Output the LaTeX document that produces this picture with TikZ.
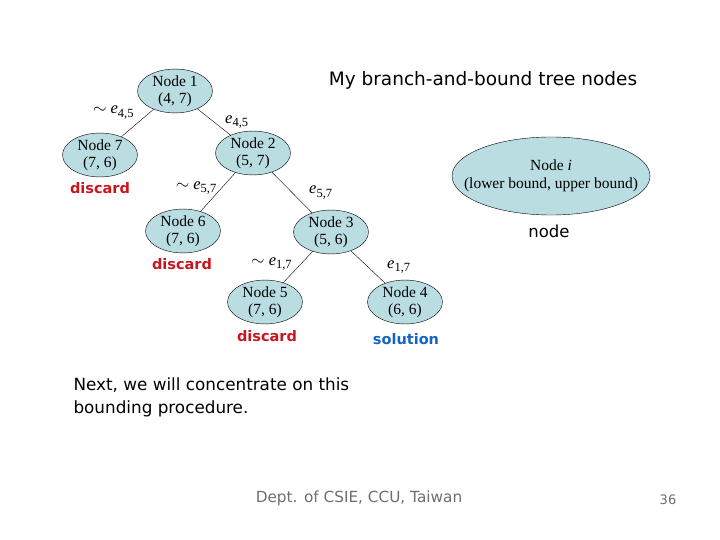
\documentclass[tikz,border=0pt]{standalone}
\usepackage{fontspec}
\setmainfont{Liberation Serif}
\newfontfamily\comicfont{DejaVu Sans}
\usetikzlibrary{shapes.geometric}
\definecolor{nodefill}{RGB}{186,221,226}
\definecolor{discardred}{RGB}{204,20,30}
\definecolor{solblue}{RGB}{20,100,200}
\definecolor{footgray}{RGB}{110,110,110}
\newcommand{\elab}[1]{\textit{e}\raisebox{-3.5pt}{\fontsize{12.5}{12}\selectfont #1}}
\tikzset{
  bbnode/.style={draw, ellipse, fill=nodefill, inner sep=0pt,
    minimum width=75pt, minimum height=41pt, align=center,
    font=\fontsize{15.5}{17}\selectfont},
  tag/.style={font=\comicfont\bfseries\fontsize{14.5}{16}\selectfont},
  elabel/.style={font=\fontsize{16.5}{18}\selectfont, inner sep=1pt}
}
\begin{document}
\begin{tikzpicture}[x=1pt,y=-1pt,thin]
\useasboundingbox (0,0) rectangle (720,540);

\node[bbnode] (n1) at (175,91) { Node 1\\(4, 7) };
\node[bbnode] (n7) at (100,155) { Node 7\\(7, 6) };
\node[bbnode] (n2) at (253,153) { Node 2\\(5, 7) };
\node[bbnode] (n6) at (183,231) { Node 6\\(7, 6) };
\node[bbnode] (n3) at (331,232) { Node 3\\(5, 6) };
\node[bbnode] (n5) at (265,302) { Node 5\\(7, 6) };
\node[bbnode] (n4) at (405,302) { Node 4\\(6, 6) };

% legend ellipse, text laid over it
\node[draw, ellipse, fill=nodefill, minimum width=198pt, minimum height=78pt]
  (legend) at (551,176) {};
\node[align=center, font=\fontsize{15.5}{18}\selectfont] (legendtext) at (legend.center)
  { Node \textit{i}\\(lower bound, upper bound) };

\node[tag, text=discardred] (d7) at (100,188) { discard };
\node[tag, text=discardred] (d6) at (182,264) { discard };
\node[tag, text=discardred] (d5) at (267,336) { discard };
\node[tag, text=solblue] (s4) at (406,339) { solution };
\node[font=\comicfont\fontsize{16.5}{18}\selectfont] (lname) at (549,231) { node };

\node[font=\comicfont\fontsize{18.5}{20}\selectfont] (title) at (483,80)
  { My branch-and-bound tree nodes };

\node[font=\comicfont\fontsize{16.8}{23}\selectfont, align=left, anchor=north west]
  (note) at (70,374) { Next, we will concentrate on this\\bounding procedure. };

\node[font=\comicfont\fontsize{15.3}{17}\selectfont, text=footgray] (foot) at (359,498)
  { Dept. of CSIE, CCU, Taiwan };
\node[font=\comicfont\fontsize{13}{15}\selectfont, text=footgray] (page) at (668,500) { 36 };

\draw (n1) -- (n7) node [pos=0.4, above left, xshift=-6pt, elabel] { $\sim$ \elab{4,5} };
\draw (n1) -- (n2) node [pos=0.5, right=10pt, elabel] { \elab{4,5} };
\draw (n2) -- (n6) node [pos=0.4, left=4pt, elabel] { $\sim$ \elab{5,7} };
\draw (n2) -- (n3) node [pos=0.5, right=16pt, elabel] { \elab{5,7} };
\draw (n3) -- (n5) node [pos=0.4, left=8pt, elabel] { $\sim$ \elab{1,7} };
\draw (n3) -- (n4) node [pos=0.5, right=18pt, elabel] { \elab{1,7} };

\end{tikzpicture}
\end{document}
